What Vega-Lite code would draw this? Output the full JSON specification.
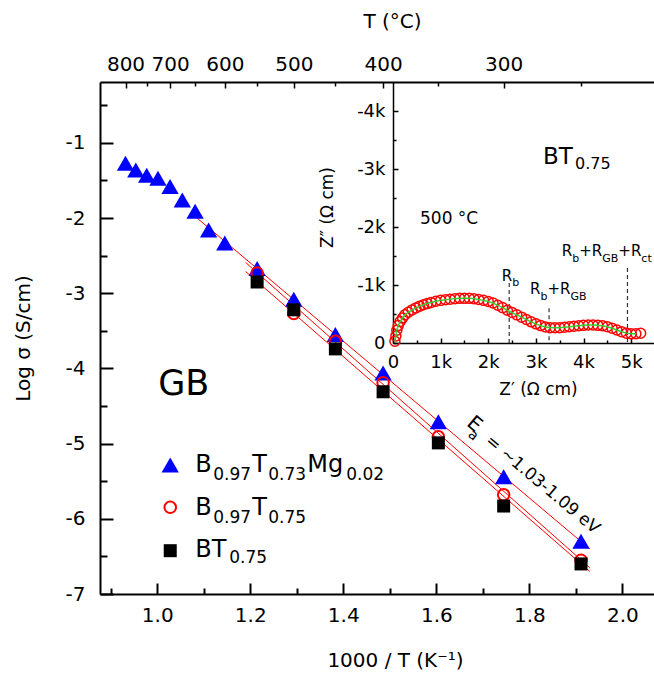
{
"$schema":"https://vega.github.io/schema/vega-lite/v6.json",
"width":554,"height":512,
"autosize":{"type":"none"},
"padding":{"left":100,"top":82,"right":0,"bottom":85},
"background":"white",
"config":{"view":{"stroke":null},"font":"DejaVu Sans","text":{"font":"DejaVu Sans","color":"black"},
 "axis":{"grid":false,"domainColor":"black","tickColor":"black","labelColor":"black","titleColor":"black","labelFont":"DejaVu Sans","titleFont":"DejaVu Sans","titleFontWeight":"normal","labelFontSize":20,"titleFontSize":20,"labelFlush":false,"labelOverlap":false}},
"datasets":{
 "tri":[{"x":0.9318,"y":-1.27},{"x":0.954,"y":-1.36},{"x":0.9774,"y":-1.43},{"x":1.0016,"y":-1.47},{"x":1.0276,"y":-1.58},{"x":1.0539,"y":-1.76},{"x":1.0815,"y":-1.91},{"x":1.1105,"y":-2.16},{"x":1.1453,"y":-2.33},{"x":1.2148,"y":-2.67},{"x":1.2936,"y":-3.08},{"x":1.383,"y":-3.55},{"x":1.4856,"y":-4.06},{"x":1.6044,"y":-4.71},{"x":1.7448,"y":-5.44},{"x":1.9111,"y":-6.3}],
 "circ":[{"x":1.2148,"y":-2.73},{"x":1.2936,"y":-3.27},{"x":1.383,"y":-3.64},{"x":1.4856,"y":-4.19},{"x":1.6044,"y":-4.91},{"x":1.7448,"y":-5.68},{"x":1.9111,"y":-6.55}],
 "sq":[{"x":1.2148,"y":-2.85},{"x":1.2936,"y":-3.22},{"x":1.383,"y":-3.74},{"x":1.4856,"y":-4.31},{"x":1.6044,"y":-4.99},{"x":1.7448,"y":-5.83},{"x":1.9111,"y":-6.6}],
 "fit":[{"s":"a","x":1.08,"y":-1.97},{"s":"a","x":1.93,"y":-6.4},{"s":"b","x":1.19,"y":-2.59},{"s":"b","x":1.93,"y":-6.65},{"s":"c","x":1.19,"y":-2.71},{"s":"c","x":1.93,"y":-6.7}],
 "legMain":[{"t":"B","x":1.0817,"y":-5.373},{"t":"T","x":1.2043,"y":-5.373},{"t":"Mg","x":1.3226,"y":-5.373},{"t":"B","x":1.0817,"y":-5.949},{"t":"T","x":1.2043,"y":-5.949},{"t":"BT","x":1.0817,"y":-6.508}],
 "legSub":[{"t":"0.97","x":1.1204,"y":-5.483},{"t":"0.73","x":1.2387,"y":-5.483},{"t":"0.02","x":1.4065,"y":-5.483},{"t":"0.97","x":1.1204,"y":-6.055},{"t":"0.75","x":1.2387,"y":-6.055},{"t":"0.75","x":1.1548,"y":-6.588}],
 "nyq":[{"zr":40,"zi":-30},{"zr":60,"zi":-120},{"zr":80,"zi":-220},{"zr":110,"zi":-300},{"zr":150,"zi":-370},{"zr":200,"zi":-430},{"zr":250,"zi":-485},{"zr":320,"zi":-530},{"zr":400,"zi":-570},{"zr":480,"zi":-605},{"zr":560,"zi":-635},{"zr":640,"zi":-660},{"zr":720,"zi":-680},{"zr":800,"zi":-700},{"zr":900,"zi":-720},{"zr":1000,"zi":-735},{"zr":1100,"zi":-745},{"zr":1200,"zi":-755},{"zr":1300,"zi":-765},{"zr":1400,"zi":-770},{"zr":1500,"zi":-770},{"zr":1600,"zi":-770},{"zr":1700,"zi":-762},{"zr":1800,"zi":-750},{"zr":1900,"zi":-735},{"zr":2000,"zi":-715},{"zr":2100,"zi":-690},{"zr":2200,"zi":-650},{"zr":2300,"zi":-610},{"zr":2400,"zi":-565},{"zr":2500,"zi":-525},{"zr":2600,"zi":-485},{"zr":2700,"zi":-445},{"zr":2800,"zi":-405},{"zr":2900,"zi":-365},{"zr":3000,"zi":-330},{"zr":3100,"zi":-300},{"zr":3200,"zi":-275},{"zr":3300,"zi":-265},{"zr":3400,"zi":-262},{"zr":3500,"zi":-265},{"zr":3600,"zi":-272},{"zr":3700,"zi":-280},{"zr":3800,"zi":-290},{"zr":3900,"zi":-298},{"zr":4000,"zi":-305},{"zr":4100,"zi":-310},{"zr":4200,"zi":-310},{"zr":4300,"zi":-305},{"zr":4400,"zi":-298},{"zr":4500,"zi":-280},{"zr":4600,"zi":-255},{"zr":4700,"zi":-225},{"zr":4800,"zi":-195},{"zr":4900,"zi":-170},{"zr":5000,"zi":-158},{"zr":5100,"zi":-160},{"zr":5200,"zi":-168}],
 "dash":[{"zr":2440,"zi":-1035},{"zr":3277,"zi":-601},{"zr":4923,"zi":-1294}],
 "insR":[{"t":"R","zr":2284,"zi":-1062},{"t":"R","zr":2878,"zi":-849},{"t":"+R","zr":3244,"zi":-849},{"t":"R","zr":3544,"zi":-1496},{"t":"+R","zr":3910,"zi":-1496},{"t":"+R","zr":4731,"zi":-1496}],
 "insRSub":[{"t":"b","zr":2502,"zi":-976},{"t":"b","zr":3097,"zi":-745},{"t":"GB","zr":3727,"zi":-745},{"t":"b","zr":3763,"zi":-1404},{"t":"GB","zr":4393,"zi":-1404},{"t":"ct","zr":5214,"zi":-1404}]
},
"layer":[
 {"layer":[
  {"data":{"name":"fit"},"mark":{"type":"line","color":"#ff0000","strokeWidth":1},
   "encoding":{
    "x":{"field":"x","type":"quantitative","scale":{"domain":[0.877,2.068],"nice":false,"zero":false},
      "axis":{"orient":"bottom","values":[1,1.2,1.4,1.6,1.8,2.0],"format":".1f","tickSize":-11,"tickWidth":2,"domainWidth":2,"labelPadding":22,"title":"1000 / T (K⁻¹)","titlePadding":25,"titleX":295}},
    "y":{"field":"y","type":"quantitative","scale":{"domain":[-7,-0.19],"nice":false,"zero":false},
      "axis":{"orient":"left","values":[-7,-6,-5,-4,-3,-2,-1],"labelExpr":"toString(datum.value)","tickSize":-13,"tickWidth":2,"domainWidth":2,"labelPadding":28,"title":"Log σ (S/cm)","titlePadding":32}},
    "detail":{"field":"s"}}},
  {"data":{"name":"tri"},"mark":{"type":"point","shape":"triangle-up","filled":true,"color":"#0000ff","size":300,"opacity":1},
   "encoding":{
    "x":{"field":"x","type":"quantitative","scale":{"domain":[0.877,2.068],"nice":false,"zero":false},
      "axis":{"orient":"bottom","values":[0.9,1.1,1.3,1.5,1.7,1.9],"tickSize":-6,"tickWidth":2,"labels":false,"domain":false,"title":null}},
    "y":{"field":"y","type":"quantitative","scale":{"domain":[-7,-0.19],"nice":false,"zero":false},
      "axis":{"orient":"left","values":[-6.5,-5.5,-4.5,-3.5,-2.5,-1.5,-0.5],"tickSize":-7,"tickWidth":2,"labels":false,"domain":false,"title":null}}}},
  {"data":{"name":"circ"},"mark":{"type":"point","shape":"circle","filled":false,"color":"#ff0000","size":133,"strokeWidth":2,"opacity":1},
   "encoding":{
    "x":{"field":"x","type":"quantitative","scale":{"domain":[0.877,2.068],"nice":false,"zero":false},
      "axis":{"orient":"top","values":[0.93183,1.0276,1.14528,1.29358,1.48555,1.74475],"labelExpr":"format(1000/datum.value-273.15,'.0f')","tickSize":-6,"tickWidth":1.5,"domainWidth":2,"labelPadding":14,"title":"T (°C)","titlePadding":23,"titleX":292}},
    "y":{"field":"y","type":"quantitative","scale":{"domain":[-7,-0.19],"nice":false,"zero":false},"axis":null}}},
  {"data":{"name":"sq"},"mark":{"type":"point","shape":"square","filled":true,"color":"#000000","size":169,"opacity":1},
   "encoding":{
    "x":{"field":"x","type":"quantitative","scale":{"domain":[0.877,2.068],"nice":false,"zero":false},
      "axis":{"orient":"top","values":[0.97737,1.08154,1.21484,1.38303,1.60436,1.91113],"tickSize":-4,"tickWidth":1.5,"labels":false,"domain":false,"title":null}},
    "y":{"field":"y","type":"quantitative","scale":{"domain":[-7,-0.19],"nice":false,"zero":false},"axis":null}}},
  {"data":{"values":[{"x":1.028,"y":-5.284}]},"mark":{"type":"point","shape":"triangle-up","filled":true,"color":"#0000ff","size":300,"opacity":1},
   "encoding":{"x":{"field":"x","type":"quantitative","axis":null},"y":{"field":"y","type":"quantitative","axis":null}}},
  {"data":{"values":[{"x":1.028,"y":-5.847}]},"mark":{"type":"point","shape":"circle","filled":false,"color":"#ff0000","size":133,"strokeWidth":2,"opacity":1},
   "encoding":{"x":{"field":"x","type":"quantitative","axis":null},"y":{"field":"y","type":"quantitative","axis":null}}},
  {"data":{"values":[{"x":1.028,"y":-6.424}]},"mark":{"type":"point","shape":"square","filled":true,"color":"#000000","size":169,"opacity":1},
   "encoding":{"x":{"field":"x","type":"quantitative","axis":null},"y":{"field":"y","type":"quantitative","axis":null}}},
  {"data":{"name":"legMain"},"mark":{"type":"text","fontSize":24,"align":"left","baseline":"alphabetic"},
   "encoding":{"x":{"field":"x","type":"quantitative","axis":null},"y":{"field":"y","type":"quantitative","axis":null},"text":{"field":"t"}}},
  {"data":{"name":"legSub"},"mark":{"type":"text","fontSize":17,"align":"left","baseline":"alphabetic"},
   "encoding":{"x":{"field":"x","type":"quantitative","axis":null},"y":{"field":"y","type":"quantitative","axis":null},"text":{"field":"t"}}},
  {"data":{"values":[{"t":"GB","x":1.002,"y":-4.353}]},"mark":{"type":"text","fontSize":35,"align":"left","baseline":"alphabetic"},
   "encoding":{"x":{"field":"x","type":"quantitative","axis":null},"y":{"field":"y","type":"quantitative","axis":null},"text":{"field":"t"}}},
  {"data":{"values":[{"t":"E","x":1.6718,"y":-4.687}]},"mark":{"type":"text","fontSize":20,"align":"left","baseline":"middle","angle":40},
   "encoding":{"x":{"field":"x","type":"quantitative","axis":null},"y":{"field":"y","type":"quantitative","axis":null},"text":{"field":"t"}}},
  {"data":{"values":[{"t":"a","x":1.6723,"y":-4.854}]},"mark":{"type":"text","fontSize":14,"align":"left","baseline":"middle","angle":40},
   "encoding":{"x":{"field":"x","type":"quantitative","axis":null},"y":{"field":"y","type":"quantitative","axis":null},"text":{"field":"t"}}},
  {"data":{"values":[{"t":"= ~1.03-1.09 eV","x":1.7103,"y":-4.934}]},"mark":{"type":"text","fontSize":17,"align":"left","baseline":"middle","angle":40},
   "encoding":{"x":{"field":"x","type":"quantitative","axis":null},"y":{"field":"y","type":"quantitative","axis":null},"text":{"field":"t"}}}
 ],
 "resolve":{"axis":{"x":"independent","y":"independent"}}},
 {"layer":[
  {"data":{"name":"dash"},"mark":{"type":"rule","color":"#333333","strokeWidth":1.2,"strokeDash":[4,3]},
   "encoding":{
    "x":{"field":"zr","type":"quantitative","scale":{"domain":[0,5480],"range":[293,554],"nice":false,"zero":false},"axis":null},
    "y":{"field":"zi","type":"quantitative","scale":{"domain":[-4500,0],"range":[0,261],"nice":false,"zero":false},"axis":null},
    "y2":{"datum":0}}},
  {"data":{"name":"nyq"},"mark":{"type":"point","shape":"circle","filled":false,"color":"#ff0000","size":100,"strokeWidth":1.5,"opacity":1},
   "encoding":{
    "x":{"field":"zr","type":"quantitative","scale":{"domain":[0,5480],"range":[293,554],"nice":false,"zero":false},
      "axis":{"orient":"bottom","offset":-251,"values":[0,1000,2000,3000,4000,5000],"labelExpr":"datum.value==0?'0':toString(datum.value/1000)+'k'","tickSize":-5,"tickWidth":1.5,"domainWidth":1.5,"labelPadding":15,"labelFontSize":18,"title":"Z′ (Ω cm)","titleFontSize":17,"titlePadding":10,"titleX":438}},
    "y":{"field":"zi","type":"quantitative","scale":{"domain":[-4500,0],"range":[0,261],"nice":false,"zero":false},
      "axis":{"orient":"left","offset":-293,"values":[-4000,-3000,-2000,-1000,0],"labelExpr":"datum.value==0?'0':toString(datum.value/1000)+'k'","tickSize":-5,"tickWidth":1.5,"domainWidth":1.5,"labelPadding":13,"labelFontSize":18,"title":"Z″ (Ω cm)","titleFontSize":17,"titleX":-57,"titleY":125}}}},
  {"data":{"name":"nyq"},"transform":[{"filter":"datum.zr < 5150"}],"mark":{"type":"line","color":"#33cc33","strokeWidth":1.5},
   "encoding":{
    "x":{"field":"zr","type":"quantitative","scale":{"domain":[0,5480],"range":[293,554],"nice":false,"zero":false},
      "axis":{"orient":"bottom","offset":-251,"values":[500,1500,2500,3500,4500],"tickSize":-3,"tickWidth":1.5,"labels":false,"domain":false,"title":null}},
    "y":{"field":"zi","type":"quantitative","scale":{"domain":[-4500,0],"range":[0,261],"nice":false,"zero":false},
      "axis":{"orient":"left","offset":-293,"values":[-500,-1500,-2500,-3500],"tickSize":-3,"tickWidth":1.5,"labels":false,"domain":false,"title":null}}}},
  {"data":{"name":"insR"},"mark":{"type":"text","fontSize":15,"align":"left","baseline":"alphabetic"},
   "encoding":{"x":{"field":"zr","type":"quantitative","axis":null},"y":{"field":"zi","type":"quantitative","axis":null},"text":{"field":"t"}}},
  {"data":{"name":"insRSub"},"mark":{"type":"text","fontSize":11,"align":"left","baseline":"alphabetic"},
   "encoding":{"x":{"field":"zr","type":"quantitative","axis":null},"y":{"field":"zi","type":"quantitative","axis":null},"text":{"field":"t"}}},
  {"data":{"values":[{"t":"BT","zr":3151,"zi":-3085}]},"mark":{"type":"text","fontSize":23,"align":"left","baseline":"alphabetic"},
   "encoding":{"x":{"field":"zr","type":"quantitative","axis":null},"y":{"field":"zi","type":"quantitative","axis":null},"text":{"field":"t"}}},
  {"data":{"values":[{"t":"0.75","zr":3823,"zi":-2998}]},"mark":{"type":"text","fontSize":16,"align":"left","baseline":"alphabetic"},
   "encoding":{"x":{"field":"zr","type":"quantitative","axis":null},"y":{"field":"zi","type":"quantitative","axis":null},"text":{"field":"t"}}},
  {"data":{"values":[{"t":"500 °C","zr":567,"zi":-2045}]},"mark":{"type":"text","fontSize":17,"align":"left","baseline":"alphabetic"},
   "encoding":{"x":{"field":"zr","type":"quantitative","axis":null},"y":{"field":"zi","type":"quantitative","axis":null},"text":{"field":"t"}}}
 ],
 "resolve":{"axis":{"x":"independent","y":"independent"}}}
],
"resolve":{"scale":{"x":"independent","y":"independent"}}
}
